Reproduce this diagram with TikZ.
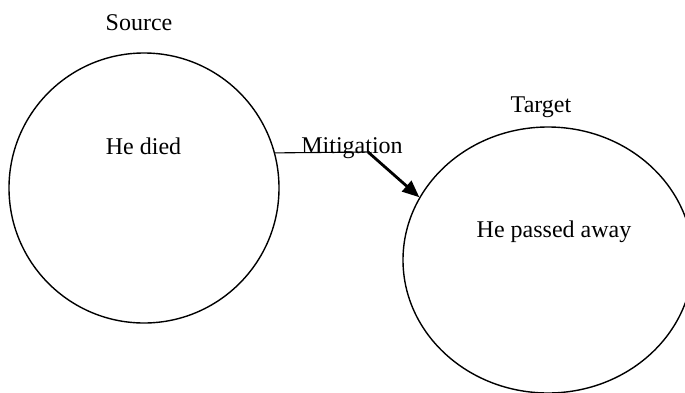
\documentclass[tikz,border=0pt]{standalone}
\usepackage{fontspec}
\setmainfont{Liberation Serif}
\usetikzlibrary{shapes.geometric,arrows.meta}

\begin{document}
\begin{tikzpicture}[x=1pt,y=-1pt,
  every node/.style={font=\fontsize{24}{28}\selectfont},
  label text/.style={anchor=base,inner sep=0pt},
  frame/.style={draw,line width=1.4pt,inner sep=0pt},
  thin link/.style={line width=1.1pt},
  thick link/.style={line width=2.8pt,-{Triangle[length=17pt,width=14pt]}}]
  \useasboundingbox (0,0) rectangle (685,392);

  % source and target domains
  \node[frame,circle,minimum size=270pt] (src) at (144,188) {};
  \node[frame,ellipse,minimum width=290pt,minimum height=266pt] (tgt) at (548,260) {};

  % captions and contents
  \node[label text] (srcname) at (139,30) {Source};
  \node[label text] (srctext) at (143.5,154) {He died};
  \node[label text] (tgtname) at (541,112) {Target};
  \node[label text] (tgttext) at (554,237) {He passed away};
  \node[label text] (mit) at (352,153) {Mitigation};

  % mitigation connector
  \coordinate (bend) at (368,152);
  \draw[thin link] (src.15.5) -- (bend);
  \draw[thick link] (bend) -- (tgt.154);
\end{tikzpicture}
\end{document}
